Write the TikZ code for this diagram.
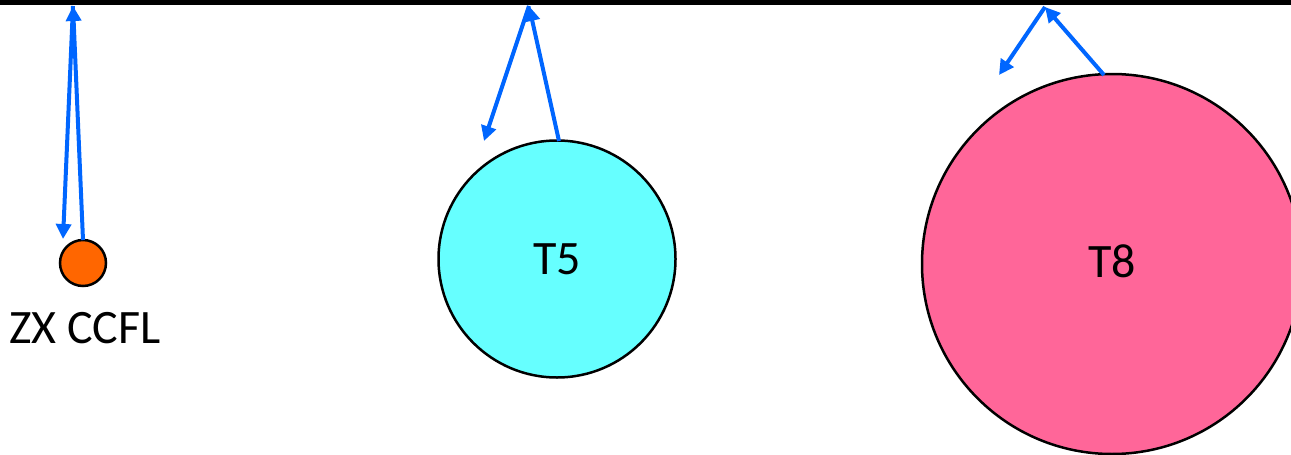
\documentclass[tikz,border=0pt]{standalone}
\usepackage{fontspec}
\setmainfont{Carlito}
\usetikzlibrary{arrows.meta}
\definecolor{rayblue}{RGB}{0,102,255}
\definecolor{ccfl}{RGB}{255,102,0}
\definecolor{tfive}{RGB}{102,255,255}
\definecolor{teight}{RGB}{255,102,153}
\begin{document}
\begin{tikzpicture}[x=1pt,y=-1pt,
  tube/.style={circle,draw=black,line width=2.5pt,inner sep=0pt},
  ray/.style={draw=rayblue,line width=4pt,-{Triangle[length=15pt,width=15pt]}},
  lbl/.style={font=\fontsize{48}{54}\selectfont,inner sep=0pt}]
\useasboundingbox (0,0) rectangle (1291,455);
\clip (0,0) rectangle (1291,455);
\fill[white] (0,0) rectangle (1291,455);
\draw[line width=6pt] (0,2) -- (1291,2);
% tubes
\node[tube,fill=ccfl,minimum size=46pt] (zx) at (83,263) {};
\node[lbl] (zxl) at (85,328) {ZX CCFL};
\node[tube,fill=tfive,minimum size=237pt] (t5) at (557,259) {};
\node[lbl] at (t5.center) {T5};
\node[tube,fill=teight,minimum size=380pt] (t8) at (1112,264) {};
\node[lbl] at ([yshift=3pt]t8.center) {T8};
% ray points
\coordinate (a1) at (73,6);
\coordinate (a2) at (63,239);
\coordinate (b1) at (529,6);
\coordinate (b2) at (484,141);
\coordinate (c1) at (1045,7);
\coordinate (c2) at (999,75);
\coordinate (zxs) at (83,240);
\coordinate (t5s) at (559,141);
\coordinate (t8s) at (1104,75);
% rays
\draw[ray] (zxs) -- (a1);
\draw[ray] (a1) -- (a2);
\draw[ray] (t5s) -- (b1);
\draw[ray] (b1) -- (b2);
\draw[ray] (t8s) -- (c1);
\draw[ray] (c1) -- (c2);
\end{tikzpicture}
\end{document}
